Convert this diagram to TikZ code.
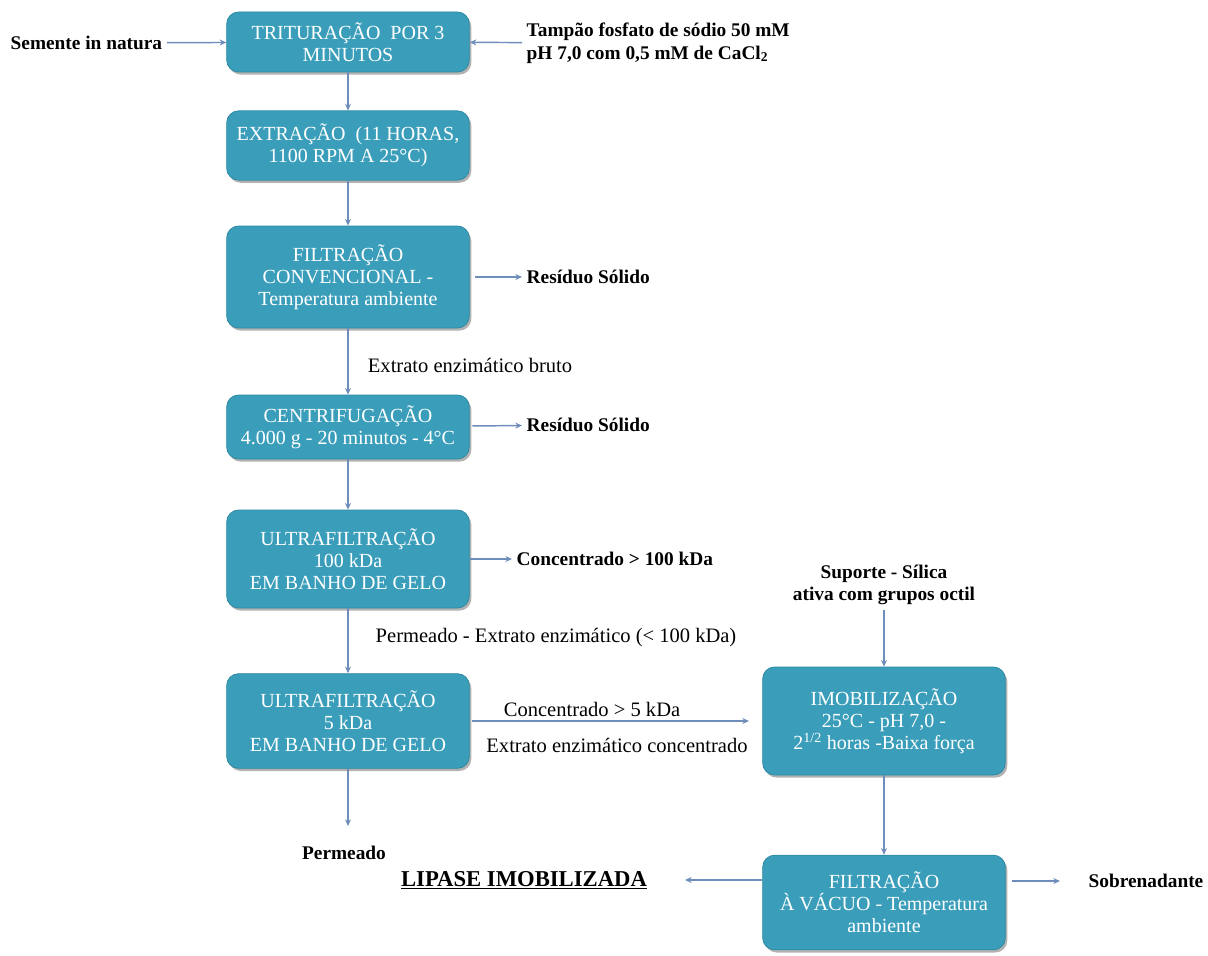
\documentclass[tikz,border=0pt]{standalone}
\usepackage{fontspec}
\setmainfont{Liberation Serif}
\usetikzlibrary{arrows.meta,shadows}

\definecolor{caixa}{HTML}{3A9EBB}
\definecolor{borda}{HTML}{2E8AA3}
\definecolor{seta}{HTML}{6F8DBA}

\tikzset{
  etapa/.style={draw=borda, line width=0.6pt, fill=caixa, rounded corners=9pt, text=white,
    align=center, minimum width=182pt, inner sep=2pt,
    font=\fontsize{15}{16.5}\selectfont,
    drop shadow={shadow xshift=1.5pt, shadow yshift=-2pt, opacity=0.3, fill=black}},
  rotulo/.style={font=\fontsize{14.5}{17}\selectfont\bfseries, align=left},
  texto/.style={font=\fontsize{15.4}{17}\selectfont},
  fluxo/.style={draw=seta, line width=1.1pt, -{Stealth[length=5pt,width=4.5pt]}}
}

\begin{document}
\begin{tikzpicture}[x=0.75pt,y=0.75pt,yscale=-1,xscale=1]
    \useasboundingbox (0,0) rectangle (1208,956);

    % Etapas (coluna principal)
    \node[etapa, minimum height=45pt] (trit) at (348,42) {TRITURAÇÃO\ \ POR 3\\MINUTOS};
    \node[etapa, minimum height=52pt] (extr) at (348,145.5) {EXTRAÇÃO\ \ (11 HORAS,\\1100 RPM A 25°C)};
    \node[etapa, minimum height=76.5pt] (fconv) at (348,277) {FILTRAÇÃO\\CONVENCIONAL -\\Temperatura ambiente};
    \node[etapa, minimum height=48pt] (centr) at (348,427) {CENTRIFUGAÇÃO\\4.000 g - 20 minutos - 4°C};
    \node[etapa, minimum height=73.5pt] (uf100) at (348,559) {ULTRAFILTRAÇÃO\\100 kDa\\EM BANHO DE GELO};
    \node[etapa, minimum height=71pt] (uf5) at (348,721) {ULTRAFILTRAÇÃO\\5 kDa\\EM BANHO DE GELO};

    % Etapas (coluna direita)
    \node[etapa, minimum height=81pt] (imob) at (884,721) {IMOBILIZAÇÃO\\25°C - pH 7,0 -\\2\textsuperscript{1/2} horas -Baixa força};
    \node[etapa, minimum height=71pt] (fvac) at (884,902.5) {FILTRAÇÃO\\À VÁCUO - Temperatura\\ambiente};

    % Text Node
    \node[rotulo, anchor=west] (sem) at (6,43) {Semente in natura};
    \node[rotulo, anchor=west] (tamp) at (522,43) {Tampão fosfato de sódio 50 mM\\pH 7,0 com 0,5 mM de CaCl\textsubscript{2}};
    \node[rotulo, anchor=west] (res1) at (522,277) {Resíduo Sólido};
    \node[texto] (bruto) at (470,365) {Extrato enzimático bruto};
    \node[rotulo, anchor=west] (res2) at (522,425) {Resíduo Sólido};
    \node[rotulo, anchor=west] (conc100) at (512,559) {Concentrado > 100 kDa};
    \node[texto] (perm100) at (556,638) {Permeado - Extrato enzimático (< 100 kDa)};
    \node[rotulo, align=center] (sup) at (884,585) {Suporte - Sílica\\ativa com grupos octil};
    \node[texto] (conc5) at (592,709) {Concentrado > 5 kDa};
    \node[texto] (econc) at (617,745) {Extrato enzimático concentrado};
    \coordinate (pfim) at (348,826);
    \node[rotulo] (perm) at (344,853) {Permeado};
    \node[rotulo, font=\fontsize{17}{20}\selectfont\bfseries] (lip) at (524,880) {\underline{LIPASE IMOBILIZADA}};
    \node[rotulo, anchor=west] (sobre) at (1084,881) {Sobrenadante};

    %Straight Lines
    \draw[fluxo] (sem) -- (trit);
    \draw[fluxo] (tamp) -- (trit);
    \draw[fluxo] (trit) -- (extr);
    \draw[fluxo] (extr) -- (fconv);
    \draw[fluxo, shorten <=4pt] (fconv) -- (res1);
    \draw[fluxo] (fconv) -- (centr);
    \draw[fluxo, shorten <=2pt] (centr) -- (res2);
    \draw[fluxo] (centr) -- (uf100);
    \draw[fluxo] (uf100) -- (conc100);
    \draw[fluxo] (uf100) -- (uf5);
    \draw[fluxo, shorten <=2pt, shorten >=10pt] (uf5) -- (imob);
    \draw[fluxo] (uf5) -- (pfim);
    \draw[fluxo] (sup) -- (imob);
    \draw[fluxo] (imob) -- (fvac);
    \draw[fluxo, shorten >=25pt] (fvac.west |- lip) -- (lip);
    \draw[fluxo, shorten <=5pt, shorten >=18pt] (fvac.east |- sobre) -- (sobre);
\end{tikzpicture}
\end{document}
